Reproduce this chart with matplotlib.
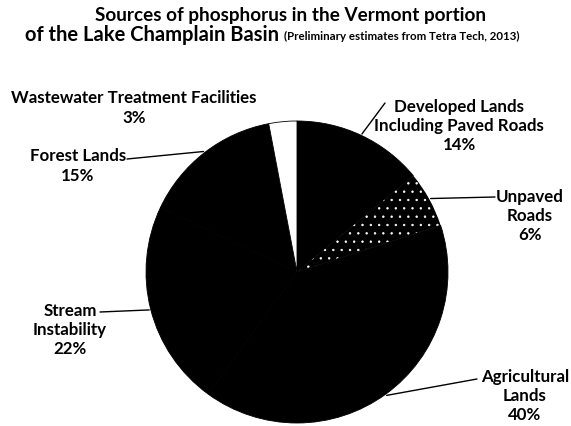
import numpy as np
import matplotlib
matplotlib.use('Agg')
import matplotlib.pyplot as plt

plt.rcParams['font.family'] = ['Lato', 'DejaVu Sans']
plt.rcParams['hatch.color'] = 'white'
plt.rcParams['hatch.linewidth'] = 0.5

# data, clockwise from 12 o'clock
sources = ['Developed Lands\nIncluding Paved Roads', 'Unpaved\nRoads', 'Agricultural\nLands',
           'Stream\nInstability', 'Forest Lands', 'Wastewater Treatment Facilities']
shares = [14, 6, 40, 22, 15, 3]
fills = ['black', 'black', 'black', 'black', 'black', 'white']

# label block centres and leader start, figure pixels from top-left
label_pos = [(459, 126), (530, 216), (525, 396), (70, 330), (78, 166), (134, 108)]
leader_from = [(385, 104), (495, 198), (477, 380), (100, 313), (127, 160), (262, 93)]

W, H = 571, 427
fig = plt.figure(figsize=(W / 100, H / 100), dpi=100)

cx, cy, r = 297, 273, 151
ax = fig.add_axes([(cx - r) / W, (H - cy - r) / H, 2 * r / W, 2 * r / H])
wedges, _ = ax.pie(shares, colors=fills, startangle=90, counterclock=False,
                   wedgeprops=dict(edgecolor='black', linewidth=0.6))
wedges[1].set_hatch('..')
wedges[1].set_edgecolor('white')
wedges[1].set_linewidth(0)
ax.set_xlim(-1, 1)
ax.set_ylim(-1, 1)
ax.set_aspect('equal')
ax.axis('off')

for w, name, pct, (tx, ty), (lx, ly) in zip(wedges, sources, shares, label_pos, leader_from):
    mid = np.deg2rad((w.theta1 + w.theta2) / 2)
    ax.annotate('', xy=(np.cos(mid) * 1.01, np.sin(mid) * 1.01), xycoords='data',
                xytext=(lx, H - ly), textcoords='figure pixels',
                arrowprops=dict(arrowstyle='-', color='black', lw=1.0, shrinkA=0, shrinkB=0))
    fig.text(tx / W, 1 - ty / H, name + '\n' + str(pct) + '%', ha='center', va='center',
             fontsize=12.2, fontweight='bold', linespacing=1.25)

fig.text(291 / W, 1 - 16 / H, 'Sources of phosphorus in the Vermont portion',
         ha='center', va='center', fontsize=13.6, fontweight='bold')
t1 = fig.text(25 / W, 1 - 35 / H, 'of the Lake Champlain Basin ',
              ha='left', va='center', fontsize=14.5, fontweight='bold')
fig.canvas.draw()
bb = t1.get_window_extent()
fig.text(bb.x1 / W, 1 - 36 / H, '(Preliminary estimates from Tetra Tech, 2013)',
         ha='left', va='center', fontsize=8.3, fontweight='bold')

fig.savefig('out.png', dpi=100)
